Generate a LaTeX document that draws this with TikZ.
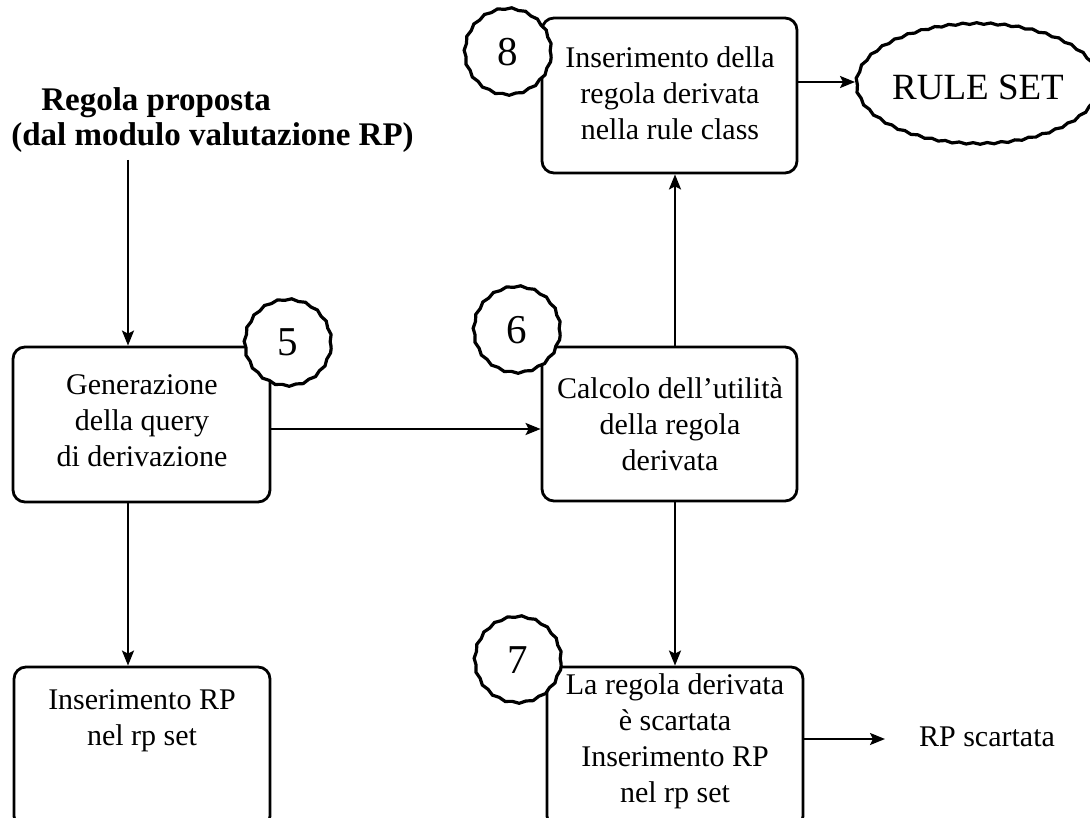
\documentclass[tikz,border=0pt]{standalone}
\usepackage{fontspec}
\setmainfont{Liberation Serif}
\usetikzlibrary{arrows.meta,decorations.pathmorphing,shapes.geometric}

\begin{document}
\begin{tikzpicture}[x=1pt,y=-1pt,
  stepbox/.style={draw, line width=2.8pt, rounded corners=12pt, fill=white, inner sep=0pt},
  wavy/.style={decorate, decoration={snake, segment length=14pt, amplitude=0.8pt}},
  numcirc/.style={circle, draw, line width=3.2pt, fill=white, minimum size=86pt,
    inner sep=0pt, font=\fontsize{41}{44}\selectfont, wavy},
  lbl/.style={align=center, font=\fontsize{30}{36}\selectfont, inner sep=0pt},
  flow/.style={line width=2.2pt, -{Stealth[length=15pt,width=12pt,inset=3pt]}}]

\useasboundingbox (0,0) rectangle (1090,818);
\clip (0,0) rectangle (1090,818);

% process boxes
\node[stepbox, minimum width=257pt, minimum height=155pt] (A) at (141.5,424.5) {};
\node[stepbox, minimum width=255pt, minimum height=154pt] (B) at (669.5,424) {};
\node[stepbox, minimum width=255pt, minimum height=155pt] (C) at (669.5,95.5) {};
\node[stepbox, minimum width=256pt, minimum height=161pt] (D) at (142,747.5) {};
\node[stepbox, minimum width=256pt, minimum height=161pt] (E) at (675,747.5) {};

% box texts
\node[lbl] (At) at (142,421) {Generazione\\della query\\di derivazione};
\node[lbl] (Bt) at (670,424) {Calcolo dell’utilità\\della regola\\derivata};
\node[lbl] (Ct) at (670,93) {Inserimento della\\regola derivata\\nella rule class};
\node[lbl] (Dt) at (142,721) {Inserimento RP\\nel rp set};
\node[lbl] (Et) at (675,741) {La regola derivata\\è scartata\\Inserimento RP\\nel rp set};

% input rule
\node[align=left, inner sep=0pt, font=\fontsize{33}{35}\selectfont\bfseries] (title) at (212.5,120.5)
  {\hspace*{30pt}Regola proposta\\(dal modulo valutazione RP)};
\coordinate (tin) at (128,160);

% rule set and discarded output
\node[ellipse, draw, line width=3.2pt, wavy, minimum width=221pt, minimum height=120pt,
  inner sep=0pt, font=\fontsize{37}{40}\selectfont] (R) at (978,87) {RULE SET};
\node[lbl] (rps) at (987,737) {RP scartata};
\coordinate (rpend) at (885,739);

% step numbers (digits sit a little above the centre)
\node[numcirc] (n5) at (288,346) {\raisebox{7pt}{5}};
\node[numcirc] (n6) at (517,333) {\raisebox{7pt}{6}};
\node[numcirc] (n8) at (508,55) {\raisebox{7pt}{8}};
\node[numcirc] (n7) at (518,663) {\raisebox{6pt}{7}};

% connectors
\draw[flow] (tin) -- (tin |- A.north);
\draw[flow] (tin |- A.south) -- (tin |- D.north);
\draw[flow] ([yshift=-4.5pt]A.east) -- ([yshift=-4.5pt]A.east -| B.west);
\draw[flow] (B.north -| E.north) -- (C.south -| E.north);
\draw[flow] (B.south -| E.north) -- (E.north);
\draw[flow] ([yshift=13.5pt]C.east) -- ([yshift=13.5pt]C.east -| R.west);
\draw[flow] ([yshift=8.5pt]E.east) -- (rpend);
\end{tikzpicture}
\end{document}
